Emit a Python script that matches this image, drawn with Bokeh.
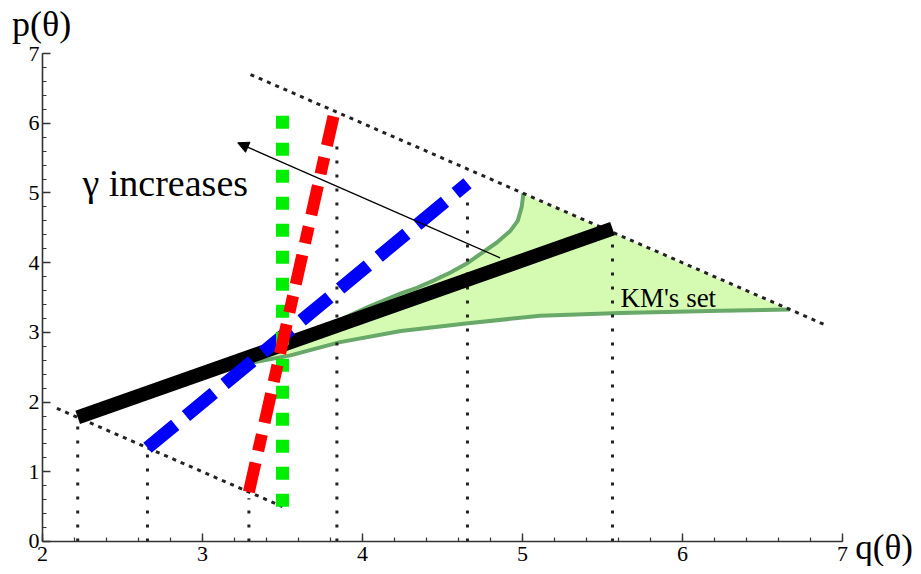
from bokeh.plotting import figure
from bokeh.models import Label, Arrow, NormalHead, SingleIntervalTicker, Range1d
from bokeh.embed import file_html
from bokeh.resources import INLINE

# ---- data ----
# dotted diagonals
lower_diag_q = [2.09, 3.5]
lower_diag_p = [1.91, 0.5]
upper_diag_q = [3.3, 6.9]
upper_diag_p = [6.7, 3.1]

# straight lines for different gamma
black_q = [2.22, 5.5625]
black_p = [1.78, 4.49]
blue_q = [2.656, 4.656]
blue_p = [1.344, 5.14]
red_q = [3.29, 3.82]
red_p = [0.71, 6.11]
green_q = [3.5, 3.5]
green_p = [0.5, 6.3]

# vertical dotted guides
vert_q = [2.22, 2.656, 3.29, 3.84, 4.656, 5.5625]
vert_top = [1.72, 1.25, 0.62, 5.7, 5.0, 4.42]

# KM's set boundary curves
upper_q = [3.2, 3.6, 4.03, 4.24, 4.34, 4.44, 4.55, 4.66, 4.74, 4.84, 4.925, 4.97, 4.995, 5.006]
upper_p = [2.52, 2.9, 3.36, 3.56, 3.64, 3.74, 3.86, 4.0, 4.13, 4.29, 4.46, 4.6, 4.8, 5.0]
lower_q = [3.2, 3.55, 3.86, 4.24, 4.66, 5.11, 5.61, 6.24, 6.67]
lower_p = [2.52, 2.67, 2.86, 3.02, 3.13, 3.24, 3.28, 3.31, 3.33]

# arrow "gamma increases"
arrow_start = (4.86, 4.07)
arrow_end = (3.22, 5.72)

# axes
x_ticks_range = (2, 7)
y_ticks_range = (0, 7)

SERIF = "Liberation Serif"

p = figure(width=913, height=566, output_backend="svg", toolbar_location=None,
           x_range=Range1d(1.7375, 7.44375), y_range=Range1d(-0.3587, 7.7618),
           min_border_left=0, min_border_right=0, min_border_top=0, min_border_bottom=0)
p.background_fill_color = "white"
p.border_fill_color = "white"
p.outline_line_color = None
p.xgrid.grid_line_color = None
p.ygrid.grid_line_color = None

p.xaxis.fixed_location = y_ticks_range[0]
p.yaxis.fixed_location = x_ticks_range[0]
p.xaxis.bounds = x_ticks_range
p.yaxis.bounds = y_ticks_range

for ax in (p.xaxis[0], p.yaxis[0]):
    ax.ticker = SingleIntervalTicker(interval=1, num_minor_ticks=5)
    ax.axis_line_color = "#333333"
    ax.axis_line_width = 1.6
    ax.major_tick_line_color = "#333333"
    ax.minor_tick_line_color = "#333333"
    ax.major_tick_line_width = 1.4
    ax.minor_tick_line_width = 1.2
    ax.major_tick_in = 8
    ax.major_tick_out = 0
    ax.minor_tick_in = 4
    ax.minor_tick_out = 0
    ax.major_label_text_font = SERIF
    ax.major_label_text_font_size = "22px"
    ax.major_label_text_color = "black"
p.xaxis.major_label_standoff = 6
p.yaxis.major_label_standoff = 3

# KM's set region
fill_q = upper_q + [lower_q[-1]] + lower_q[::-1]
fill_p = upper_p + [lower_p[-1]] + lower_p[::-1]
p.patch(fill_q, fill_p, fill_color="#d5fbb3", line_color="white", line_width=1.5)
p.line(upper_q, upper_p, line_color="#68a868", line_width=4)
p.line(lower_q, lower_p, line_color="#68a868", line_width=4)

# dotted guides
p.line(lower_diag_q, lower_diag_p, line_color="#222222", line_width=3, line_dash="4 5")
p.line(upper_diag_q, upper_diag_p, line_color="#222222", line_width=3, line_dash="4 5")
p.segment(x0=vert_q, y0=[0] * len(vert_q), x1=vert_q, y1=vert_top,
          line_color="#222222", line_width=3, line_dash="3 11")

# gamma lines
p.line(black_q, black_p, line_color="black", line_width=14)
p.line(blue_q, blue_p, line_color="#0000ff", line_width=13, line_dash="36 14")
p.line(green_q, green_p, line_color="#00ee00", line_width=13, line_dash="13 14")
p.line(red_q, red_p, line_color="#ff0000", line_width=12, line_dash="30 12 17 12")

# arrow
p.add_layout(Arrow(end=NormalHead(size=11, fill_color="black", line_color="black"),
                   x_start=arrow_start[0], y_start=arrow_start[1],
                   x_end=arrow_end[0], y_end=arrow_end[1],
                   line_color="black", line_width=1.3))

# texts
p.add_layout(Label(x=2.25, y=5.15, text="γ increases", text_font=SERIF,
                   text_font_size="38px", text_color="black", text_baseline="alphabetic"))
p.add_layout(Label(x=5.6125, y=3.5, text="KM's set", text_font=SERIF,
                   text_font_size="27px", text_color="black", text_baseline="alphabetic"))
p.add_layout(Label(x=1.81, y=7.43, text="p(θ)", text_font=SERIF,
                   text_font_size="36px", text_color="black", text_baseline="alphabetic"))
p.add_layout(Label(x=7.08, y=-0.08, text="q(θ)", text_font=SERIF,
                   text_font_size="35px", text_color="black", text_baseline="alphabetic"))

open("out.html", "w").write(file_html(p, INLINE))
